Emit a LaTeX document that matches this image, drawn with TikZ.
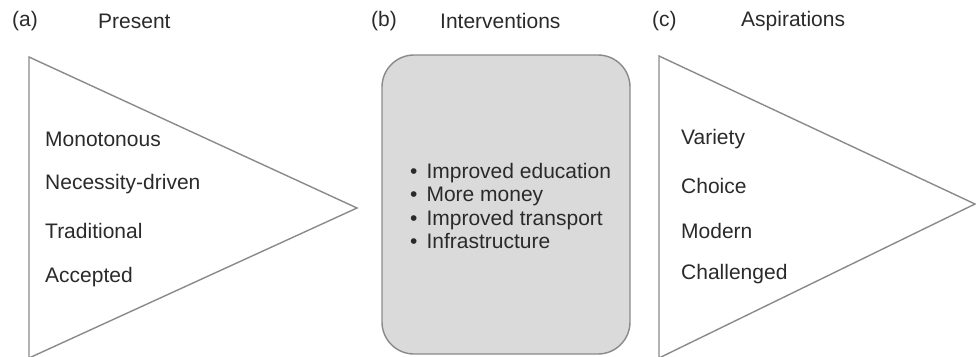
\documentclass[tikz,border=0pt]{standalone}
\usepackage{fontspec}
\setmainfont{Liberation Sans}
\definecolor{edge}{HTML}{8A8A8A}
\definecolor{ink}{HTML}{2A2A2A}
\definecolor{boxfill}{HTML}{DADADA}
\begin{document}
\begin{tikzpicture}[x=1pt,y=-1pt,
  shapeline/.style={draw=edge,line width=1.4pt,line join=miter},
  lbl/.style={anchor=west,inner sep=0pt,text=ink,font=\fontsize{21}{23}\selectfont},
  hdr/.style={anchor=west,inner sep=0pt,text=ink,font=\fontsize{21}{23}\selectfont}]
\useasboundingbox (0,0) rectangle (976,356);
% headers
\node[hdr] (ha) at (12,21) {(a)};
\node[hdr] (pa) at (98,21) {Present};
\node[hdr] (hb) at (371,21) {(b)};
\node[hdr] (pb) at (440,21) {Interventions};
\node[hdr] (hc) at (652,21) {(c)};
\node[hdr] (pc) at (741,21) {Aspirations};
% shapes
\draw[shapeline] (29,57) -- (357,208) -- (29,358) -- cycle;
\draw[shapeline] (659,56) -- (975,204) -- (659,358) -- cycle;
\draw[shapeline,fill=boxfill,rounded corners=32pt] (382,55) rectangle (630,354);
% left labels
\node[lbl] (a1) at (45,139) {Monotonous};
\node[lbl] (a2) at (45,184) {Necessity-driven};
\node[lbl] (a3) at (45,231) {Traditional};
\node[lbl] (a4) at (45,277) {Accepted};
% right labels
\node[lbl] (c1) at (681,139) {Variety};
\node[lbl] (c2) at (681,186) {Choice};
\node[lbl] (c3) at (681,231) {Modern};
\node[lbl] (c4) at (681,274) {Challenged};
% bullets
\node[lbl,align=left,font=\fontsize{21}{23.2}\selectfont] (b1) at (410,206)
 {\textbullet\hspace{9pt}Improved education\\
  \textbullet\hspace{9pt}More money\\
  \textbullet\hspace{9pt}Improved transport\\
  \textbullet\hspace{9pt}Infrastructure};
\end{tikzpicture}
\end{document}
